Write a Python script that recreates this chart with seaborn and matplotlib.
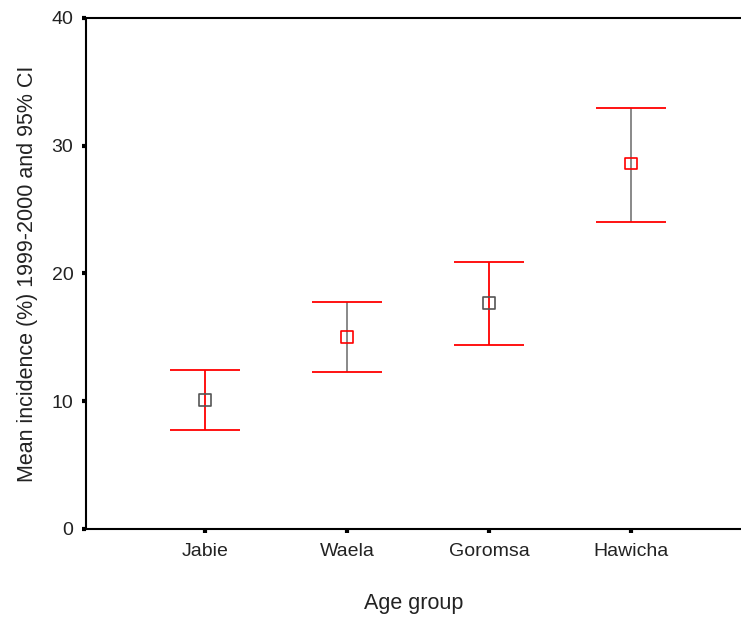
import matplotlib
matplotlib.use("Agg")
import matplotlib.pyplot as plt
import seaborn as sns
import pandas as pd

groups = ["Jabie", "Waela", "Goromsa", "Hawicha"]
means = [10.1, 15.0, 17.7, 28.6]
ci_low = [7.75, 12.3, 14.4, 24.0]
ci_high = [12.45, 17.75, 20.9, 32.95]
stem_colors = ["#ff0000", "#808080", "#ff0000", "#808080"]
marker_colors = ["#555555", "#ff0000", "#555555", "#ff0000"]

df = pd.DataFrame({"group": groups, "mean": means, "low": ci_low, "high": ci_high})

sns.set_style("white")
plt.rcParams["font.family"] = ["Liberation Sans", "DejaVu Sans"]

fig = plt.figure(figsize=(7.41, 6.19), dpi=100)
ax = fig.add_axes([0.116, 0.1454, 0.884, 0.8256])

# CI stems and caps
for i, row in df.iterrows():
    ax.vlines(i, row["low"], row["high"], color=stem_colors[i], lw=1.3, zorder=2)
    ax.hlines([row["low"], row["high"]], i - 0.245, i + 0.245, color="#ff0000", lw=1.3, zorder=2)

sns.scatterplot(data=df, x=range(len(groups)), y="mean", hue="group", palette=marker_colors,
                marker="s", s=72, facecolor="none", linewidth=1.2, legend=False, ax=ax, zorder=3)
coll = ax.collections[-1]
coll.set_facecolor("none")
coll.set_edgecolor(marker_colors)

ax.set_xticks(range(len(groups)))
ax.set_xticklabels(groups)
ax.set_xlim(-0.84, 3.775)
ax.set_ylim(0, 40)
ax.set_yticks([0, 10, 20, 30, 40])

for s in ["left", "bottom", "top"]:
    ax.spines[s].set_visible(True)
    ax.spines[s].set_color("black")
    ax.spines[s].set_linewidth(1.5)
ax.spines["right"].set_visible(False)

ax.tick_params(axis="both", which="major", direction="out", length=3, width=3,
               color="black", labelsize=14, labelcolor="#222222",
               left=True, bottom=True)
ax.tick_params(axis="y", pad=6)
ax.tick_params(axis="x", pad=7)

ax.set_xlabel("Age group", fontsize=15.5, color="#222222", labelpad=24)
ax.set_ylabel("Mean incidence (%) 1999-2000 and 95% CI", fontsize=15.5, color="#222222", labelpad=10)

fig.savefig("out.png", dpi=100)
